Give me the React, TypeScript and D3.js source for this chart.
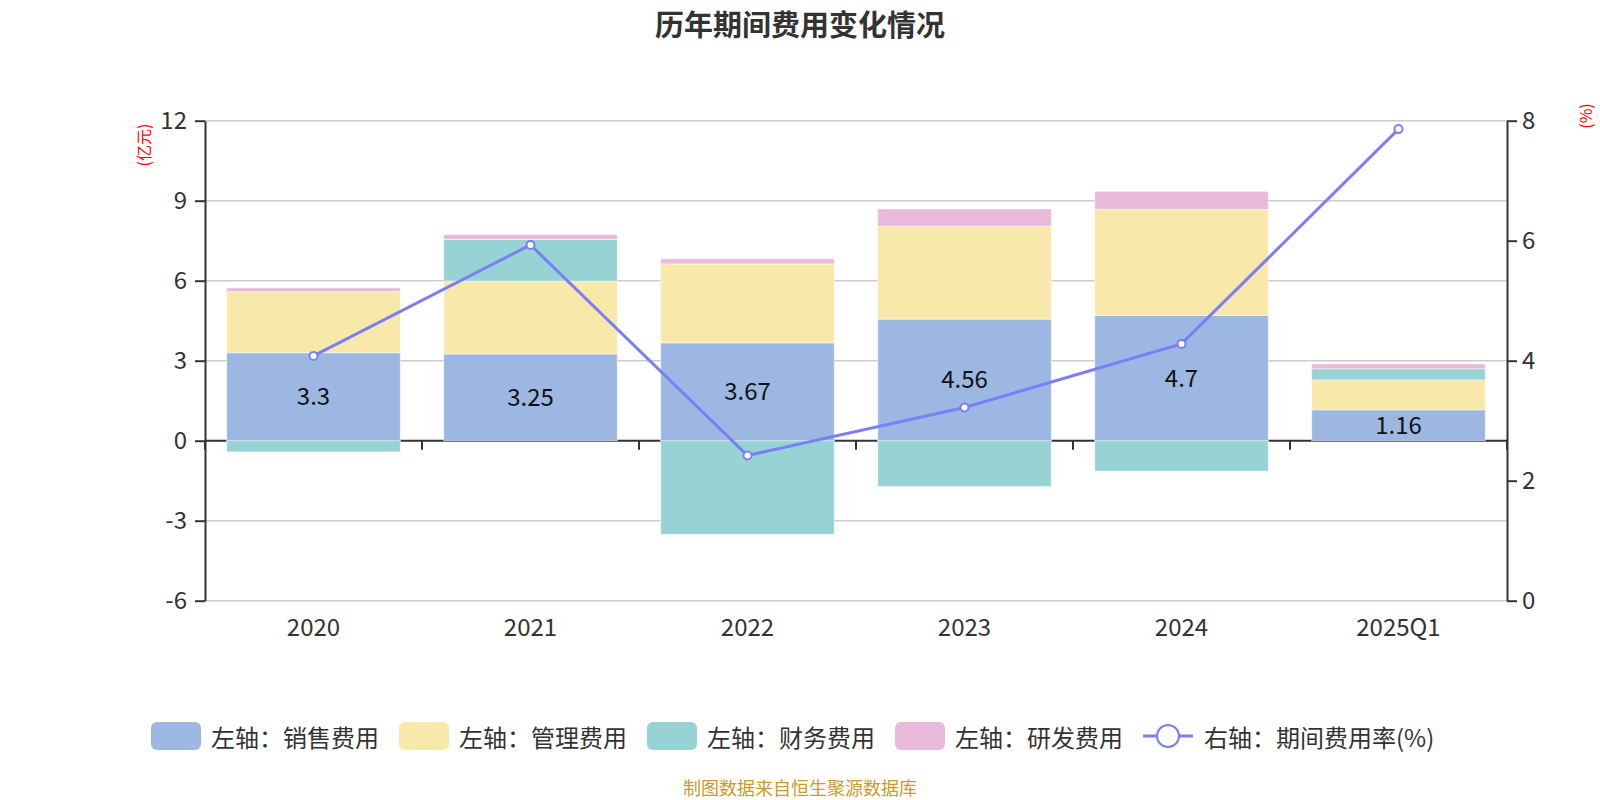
import * as React from "react";
import * as d3 from "d3";

const categories = ["2020", "2021", "2022", "2023", "2024", "2025Q1"];
const salesCost = [3.3, 3.25, 3.67, 4.56, 4.7, 1.16];
const adminCost = [2.29, 2.73, 2.96, 3.48, 3.98, 1.12];
const financeCost = [-0.42, 1.57, -3.51, -1.72, -1.14, 0.42];
const rdCost = [0.14, 0.18, 0.19, 0.65, 0.67, 0.18];
const expenseRate = [4.08, 5.93, 2.42, 3.22, 4.28, 7.86];

const leftTicks = [-6, -3, 0, 3, 6, 9, 12];
const rightTicks = [0, 2, 4, 6, 8];

const keys = ["sales", "admin", "finance", "rd"] as const;
const seriesNames = ["左轴：销售费用", "左轴：管理费用", "左轴：财务费用", "左轴：研发费用"];
const lineName = "右轴：期间费用率(%)";
const colors = ["#9cb8e2", "#f8e8a9", "#97d3d4", "#e8b9d8"];
const lineColor = "#7b7ff6";

const font = '"Noto Sans CJK SC", "Noto Sans", sans-serif';
const textColor = "#333333";

const width = 1600;
const height = 800;
const plotLeft = 205;
const plotRight = 1507;
const plotTop = 120.7;
const plotBottom = 600.7;

function textWidth(s: string, fs: number) {
	let w = 0;
	for (const ch of s) w += /[\u0000-\u00ff]/.test(ch) ? fs * 0.45 : fs;
	return w;
}

function styleAxis(g: d3.Selection<SVGGElement, unknown, null, undefined>) {
	g.attr("font-size", null).attr("font-family", null);
	g.select(".domain").attr("stroke", textColor).attr("stroke-width", 2);
	g.selectAll(".tick line").attr("stroke", textColor).attr("stroke-width", 2);
	g.selectAll(".tick text")
		.attr("fill", textColor)
		.attr("font-size", 24)
		.attr("font-family", font);
}

function App() {
	const gLeftRef = React.useRef<SVGGElement>(null);
	const gRightRef = React.useRef<SVGGElement>(null);

	const rows = categories.map((c, i) => ({
		cat: c,
		sales: salesCost[i],
		admin: adminCost[i],
		finance: financeCost[i],
		rd: rdCost[i],
	}));

	const stacked = d3
		.stack<(typeof rows)[number]>()
		.keys(keys as unknown as string[])
		.offset(d3.stackOffsetDiverging)(rows);

	const xScale = d3
		.scaleBand<string>()
		.domain(categories)
		.range([plotLeft, plotRight])
		.paddingInner(0.2)
		.paddingOuter(0.1);
	const step = xScale.step();
	const yLeft = d3.scaleLinear([-6, 12], [plotBottom, plotTop]);
	const yRight = d3.scaleLinear([0, 8], [plotBottom, plotTop]);

	React.useEffect(() => {
		document.body.style.margin = "0";
		d3.select(gLeftRef.current!)
			.call(
				d3
					.axisLeft(yLeft)
					.tickValues(leftTicks)
					.tickFormat((d) => String(d))
					.tickSize(10)
					.tickSizeOuter(0)
					.tickPadding(8)
			)
			.call(styleAxis);
		d3.select(gRightRef.current!)
			.call(
				d3
					.axisRight(yRight)
					.tickValues(rightTicks)
					.tickFormat((d) => String(d))
					.tickSize(10)
					.tickSizeOuter(0)
					.tickPadding(5)
			)
			.call(styleAxis);
	}, []);

	const line = d3
		.line<number>()
		.x((_, i) => xScale(categories[i])! + xScale.bandwidth() / 2)
		.y((d) => yRight(d));

	// legend layout
	const legendY = 736;
	let lx = 151;
	const legendItems = seriesNames.map((name, i) => {
		const x = lx;
		lx += 50 + 10 + textWidth(name, 24) + 20;
		return (
			<g key={name}>
				<rect x={x} y={legendY - 14} width={50} height={28} rx={6} fill={colors[i]} />
				<text x={x + 60} y={legendY} dominantBaseline="central" fontSize={24} fill={textColor}>
					{name}
				</text>
			</g>
		);
	});

	return (
		<svg width={width} height={height} fontFamily={font} style={{ display: "block" }}>
			<rect width={width} height={height} fill="#ffffff" />
			<text
				x={800}
				y={23}
				textAnchor="middle"
				dominantBaseline="central"
				fontSize={29}
				fontWeight="bold"
				fill={textColor}
			>
				历年期间费用变化情况
			</text>

			{/* gridlines */}
			{leftTicks
				.filter((t) => t !== 0)
				.map((t) => (
					<line
						key={t}
						x1={plotLeft}
						x2={plotRight}
						y1={yLeft(t)}
						y2={yLeft(t)}
						stroke="#cccccc"
						strokeWidth={1.5}
					/>
				))}

			{/* x axis on zero */}
			<line
				x1={plotLeft}
				x2={plotRight}
				y1={yLeft(0)}
				y2={yLeft(0)}
				stroke={textColor}
				strokeWidth={2}
			/>
			{d3.range(categories.length + 1).map((i) => (
				<line
					key={i}
					x1={plotLeft + i * step}
					x2={plotLeft + i * step}
					y1={yLeft(0)}
					y2={yLeft(0) + 9}
					stroke={textColor}
					strokeWidth={2}
				/>
			))}
			{categories.map((c) => (
				<text
					key={c}
					x={xScale(c)! + xScale.bandwidth() / 2}
					y={625}
					textAnchor="middle"
					dominantBaseline="central"
					fontSize={24}
					fill={textColor}
				>
					{c}
				</text>
			))}

			{/* stacked bars */}
			{stacked.map((layer, k) =>
				layer.map((d, i) => {
					const y0 = yLeft(Math.max(d[0], d[1]));
					const y1 = yLeft(Math.min(d[0], d[1]));
					return (
						<rect
							key={`${k}-${i}`}
							x={xScale(categories[i])}
							y={y0}
							width={xScale.bandwidth()}
							height={y1 - y0}
							fill={colors[k]}
							stroke="#ffffff"
							strokeOpacity={0.5}
							strokeWidth={1}
						/>
					);
				})
			)}

			<g ref={gLeftRef} transform={`translate(${plotLeft},0)`} />
			<g ref={gRightRef} transform={`translate(${plotRight},0)`} />

			{/* rate line */}
			<path d={line(expenseRate)!} fill="none" stroke={lineColor} strokeWidth={3} />
			{expenseRate.map((v, i) => (
				<circle
					key={i}
					cx={xScale(categories[i])! + xScale.bandwidth() / 2}
					cy={yRight(v)}
					r={4}
					fill="#ffffff"
					stroke={lineColor}
					strokeWidth={2}
				/>
			))}

			{/* sales labels */}
			{salesCost.map((v, i) => (
				<text
					key={i}
					x={xScale(categories[i])! + xScale.bandwidth() / 2}
					y={(yLeft(0) + yLeft(v)) / 2 - 2}
					textAnchor="middle"
					dominantBaseline="central"
					fontSize={24}
					fill="#111111"
				>
					{v}
				</text>
			))}

			{/* unit labels */}
			<text
				transform="translate(143,145) rotate(-90)"
				textAnchor="middle"
				dominantBaseline="central"
				fontSize={16}
				fill="#ff0000"
			>
				(亿元)
			</text>
			<text
				transform="translate(1585,116) rotate(-90)"
				textAnchor="middle"
				dominantBaseline="central"
				fontSize={16}
				fill="#ff0000"
			>
				(%)
			</text>

			{/* legend */}
			{legendItems}
			<g>
				<line x1={lx} x2={lx + 50} y1={legendY} y2={legendY} stroke={lineColor} strokeWidth={3} />
				<circle cx={lx + 25} cy={legendY} r={11} fill="#ffffff" stroke={lineColor} strokeWidth={2} />
				<text x={lx + 61} y={legendY} dominantBaseline="central" fontSize={24} fill={textColor}>
					{lineName}
				</text>
			</g>

			<text
				x={800}
				y={787}
				textAnchor="middle"
				dominantBaseline="central"
				fontSize={18}
				fill="#c99a2e"
			>
				制图数据来自恒生聚源数据库
			</text>
		</svg>
	);
}

export default App;
